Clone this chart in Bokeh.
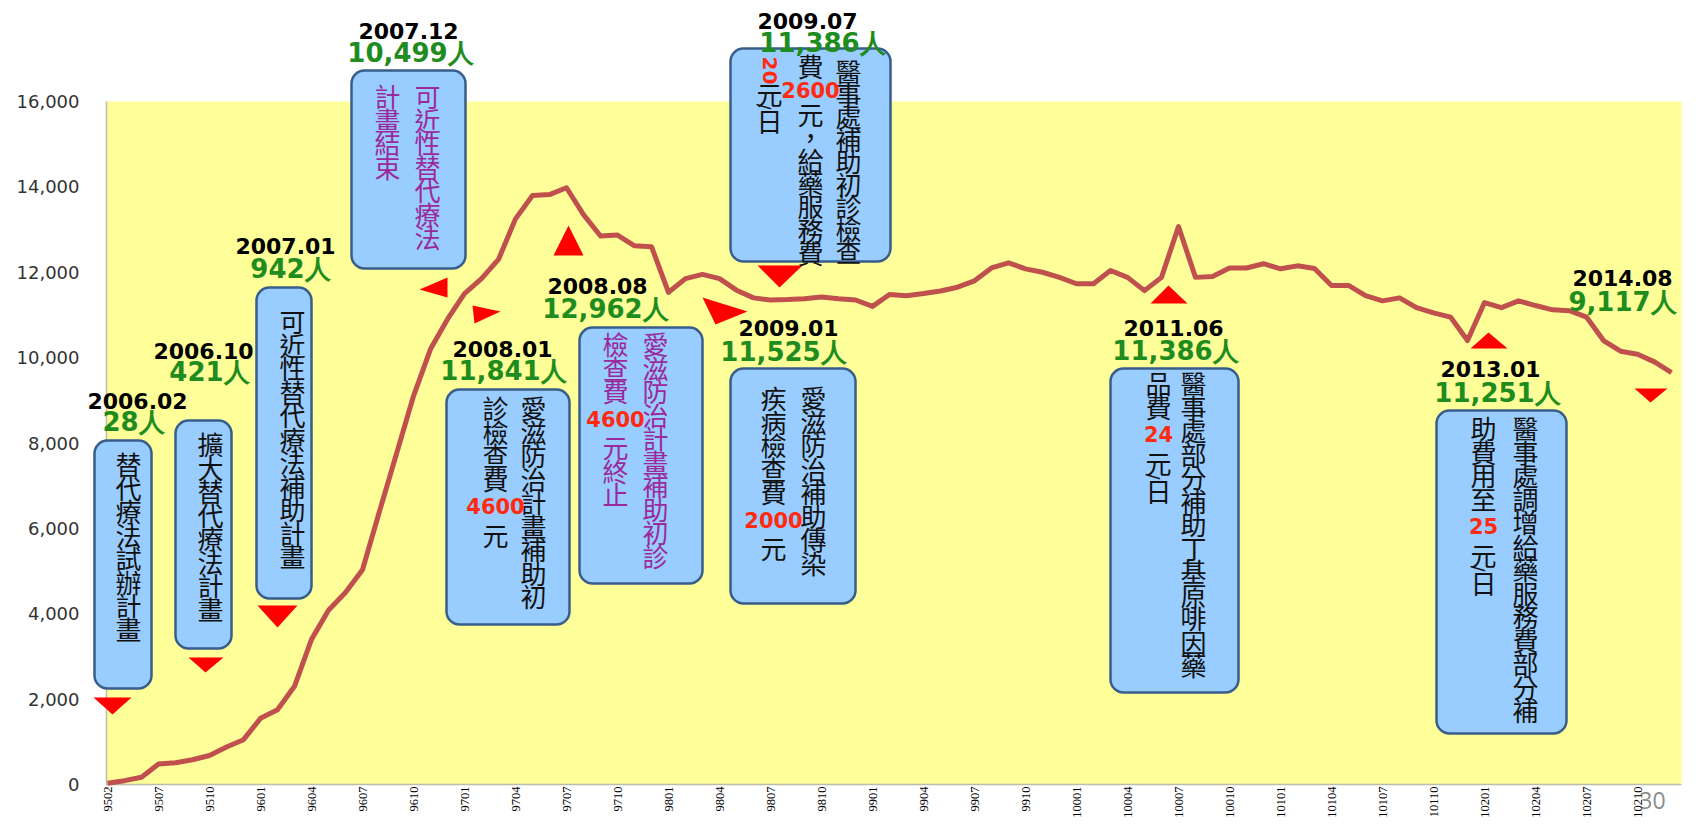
import math
from collections import defaultdict
from bokeh.plotting import figure
from bokeh.models import Range1d, FixedTicker, NumeralTickFormatter, ColumnDataSource
from bokeh.core.properties import value
from bokeh.embed import file_html
from bokeh.resources import INLINE

# ---------------- data ----------------
tick_labels = ["9502", "9507", "9510", "9601", "9604", "9607", "9610", "9701", "9704", "9707",
               "9710", "9801", "9804", "9807", "9810", "9901", "9904", "9907", "9910", "10001",
               "10004", "10007", "10010", "10101", "10104", "10107", "10110", "10201", "10204",
               "10207", "10210"]
patients = [28, 90, 170, 480, 510, 580, 680, 880, 1050, 1550,
            1750, 2300, 3400, 4080, 4500, 5030, 6400, 7750, 9100, 10200,
            10900, 11500, 11850, 12300, 13250, 13800, 13820, 13980, 13350, 12850,
            12870, 12620, 12600, 11530, 11850, 11950, 11850, 11580, 11400, 11350,
            11360, 11380, 11420, 11380, 11350, 11200, 11480, 11450, 11500, 11560,
            11650, 11800, 12100, 12220, 12080, 12000, 11880, 11730, 11730, 12040,
            11880, 11570, 11880, 13070, 11880, 11900, 12100, 12100, 12200, 12080,
            12150, 12090, 11690, 11690, 11450, 11330, 11400, 11170, 11050, 10950,
            10400, 11290, 11170, 11330, 11220, 11120, 11100, 10950, 10400, 10150,
            10080, 9900, 9650]
y_ticks = [0, 2000, 4000, 6000, 8000, 10000, 12000, 14000, 16000]
event_dates = ["2006.02", "2006.10", "2007.01", "2007.12", "2008.01", "2008.08",
               "2009.01", "2009.07", "2011.06", "2013.01", "2014.08"]
event_counts = ["28人", "421人", "942人", "10,499人", "11,841人", "12,962人",
                "11,525人", "11,386人", "11,386人", "11,251人", "9,117人"]

# ---------------- layout (reference pixel space; canvas px == picture px) ----------------
W, H = 1687, 818
X0_PX, DX_PX = 107.0, 17.0          # picture x of first month, px per month
Y0_PX = 784.0                      # picture y of value 0
PX_PER_UNIT = (784 - 101) / 16000.0


def Y(v):
    return 834 - v


p = figure(width=W, height=H,
           x_range=Range1d((0 - X0_PX) / DX_PX, (W - X0_PX) / DX_PX),
           y_range=Range1d((Y0_PX - H) / PX_PER_UNIT, Y0_PX / PX_PER_UNIT),
           output_backend="svg", toolbar_location=None, min_border=0)
p.extra_x_ranges = {"px": Range1d(0, W)}
p.extra_y_ranges = {"px": Range1d(834 - H, 834)}
p.xgrid.visible = False
p.ygrid.visible = False
p.outline_line_color = None
p.background_fill_color = "white"
p.border_fill_color = "white"

# axes (placed at fixed locations inside the frame)
p.yaxis.fixed_location = (85 - X0_PX) / DX_PX
p.yaxis.ticker = FixedTicker(ticks=y_ticks)
p.yaxis.formatter = NumeralTickFormatter(format="0,0")
p.yaxis.axis_line_color = None
p.yaxis.major_tick_line_color = None
p.yaxis.minor_tick_line_color = None
p.yaxis.major_tick_out = 0
p.yaxis.major_tick_in = 0
p.yaxis.major_label_standoff = 6
p.yaxis.major_label_text_font = "DejaVu Sans"
p.yaxis.major_label_text_font_size = "18px"
p.yaxis.major_label_text_color = "#333333"

p.xaxis.fixed_location = 0
p.xaxis.ticker = FixedTicker(ticks=[3 * k for k in range(len(tick_labels))])
p.xaxis.major_label_overrides = {3 * k: lab for k, lab in enumerate(tick_labels)}
p.xaxis.major_label_orientation = math.pi / 2
p.xaxis.axis_line_color = None
p.xaxis.major_tick_line_color = None
p.xaxis.minor_tick_line_color = None
p.xaxis.major_tick_out = 0
p.xaxis.major_tick_in = 0
p.xaxis.major_label_standoff = 2
p.xaxis.major_label_text_font = "Liberation Serif"
p.xaxis.major_label_text_font_size = "12.5px"
p.xaxis.major_label_text_color = "#000000"

# plot area background
p.quad(left=[106], right=[1681], top=[Y(101)], bottom=[Y(784)], x_range_name="px", y_range_name="px",
       fill_color="#FFFF99", line_color=None, level="underlay")
p.line(x=[106, 106, 1681], y=[Y(101), Y(784), Y(784)], x_range_name="px", y_range_name="px",
       line_color="#BDBDA8", line_width=1.5, level="underlay")

# data line
p.line(x=list(range(len(patients))), y=patients, line_color="#C0504D", line_width=5, line_join="round")

# rounded boxes
boxes = [(94, 151, 440, 688), (175, 231, 420, 648), (256, 311, 287, 598), (351, 465, 70, 268),
         (446, 569, 389, 624), (579, 702, 327, 583), (730, 855, 368, 603), (730, 890, 48, 261),
         (1110, 1238, 368, 692), (1436, 1566, 410, 733)]
p.quad(left=[b[0] for b in boxes], right=[b[1] for b in boxes], top=[Y(b[2]) for b in boxes],
       bottom=[Y(b[3]) for b in boxes], border_radius=13, x_range_name="px", y_range_name="px",
       fill_color="#99CCFF", line_color="#385D8A", line_width=2.5)

# triangles
tris = [[(93, 697), (131, 697), (112, 714)],
        [(188, 657), (223, 657), (205, 672)],
        [(257, 605), (297, 605), (277, 627)],
        [(447, 277), (447, 297), (419, 289)],
        [(472, 305), (474, 323), (500, 311)],
        [(553, 255), (583, 255), (568, 225)],
        [(702, 297), (715, 324), (747, 311)],
        [(757, 265), (802, 265), (779, 287)],
        [(1150, 303), (1187, 303), (1168, 285)],
        [(1470, 348), (1507, 348), (1488, 332)],
        [(1634, 388), (1667, 388), (1650, 402)]]
p.patches(xs=[[v[0] for v in t] for t in tris], ys=[[Y(v[1]) for v in t] for t in tris],
          x_range_name="px", y_range_name="px", fill_color="#FF0000", line_color=None)

# ---------------- texts ----------------
CJK = "Noto Sans CJK TC"
NUMF = "DejaVu Sans"
BLACK, PURPLE, RED, GREEN = "#111111", "#9A2A9C", "#FF2A10", "#1E8C1E"
groups = defaultdict(lambda: {"x": [], "y": [], "text": []})


def put(x, y, s, font, size, color, bold=False, angle=0.0):
    g = groups[(font, size, color, bold, angle)]
    g["x"].append(x)
    g["y"].append(Y(y))
    g["text"].append(s)


def column(x, y0, tokens, color, step=23.5, numgap=28.0):
    y = y0
    prev = None
    for tok in tokens:
        if prev is not None:
            if tok[0] in "#^" or prev[0] in "#^":
                y += numgap
            elif tok[0] == "/":
                y += step + 5
            else:
                y += step
        if tok[0] == "#":
            put(x, y, tok[1:], NUMF, 21, RED, True)
        elif tok[0] == "^":
            put(x, y, tok[1:], NUMF, 20, RED, True, -math.pi / 2)
        elif tok[0] == "/":
            put(x - 6, y - 14, "/", NUMF, 17, color, False, -math.pi / 2)
            put(x, y, tok[1:], CJK, 26, color)
        else:
            put(x, y, tok, CJK, 26, color)
        prev = tok


column(128, 463, list("替代療法試辦計畫"), BLACK)
column(210, 443, list("擴大替代療法計畫"), BLACK)
column(292, 320, list("可近性替代療法補助計畫"), BLACK)
column(427, 95, list("可近性替代療法"), PURPLE)
column(387, 95, list("計畫結束"), PURPLE)
column(533, 407, list("愛滋防治計畫補助初"), BLACK)
column(495, 407, list("診檢查費") + ["#4600", "元"], BLACK)
column(655, 343, list("愛滋防治計畫補助初診"), PURPLE)
column(615, 343, list("檢查費") + ["#4600"] + list("元終止"), PURPLE)
column(813, 397, list("愛滋防治補助傳染"), BLACK)
column(773, 397, list("疾病檢查費") + ["#2000", "元"], BLACK)
column(848, 70, list("醫事處補助初診檢查"), BLACK, step=22.5)
column(810, 65, ["費", "#2600", "元", "，"] + list("給藥服務費"), BLACK, step=23.1, numgap=24)
column(769, 70, ["^20", "元", "/日"], BLACK, step=22, numgap=23)
column(1193, 382, list("醫事處部分補助丁基原啡因藥"), BLACK)
column(1158, 382, list("品費") + ["#24", "元", "/日"], BLACK)
column(1525, 427, list("醫事處調增給藥服務費部分補"), BLACK)
column(1483, 427, list("助費用至") + ["#25", "元", "/日"], BLACK)

label_pos = [((137, 400), (133, 421)), ((203, 350), (209, 371)), ((285, 245), (290, 268)),
             ((408, 30), (410, 52)), ((502, 348), (503, 370)), ((597, 285), (605, 308)),
             ((788, 327), (783, 351)), ((807, 20), (822, 42)), ((1173, 327), (1175, 350)),
             ((1490, 368), (1497, 392)), ((1622, 277), (1622, 301))]
for d, c, (pd, pc) in zip(event_dates, event_counts, label_pos):
    put(pd[0], pd[1], d, NUMF, 22, "#000000", True)
    put(pc[0], pc[1], c, NUMF, 26, GREEN, True)

# slide page number
put(1652, 800, "30", "Open Sans", 23, "#8C8C8C")

for (font, size, color, bold, angle), g in groups.items():
    p.text(x="x", y="y", text="text", source=ColumnDataSource(dict(g)),
           x_range_name="px", y_range_name="px",
           text_font=value(font), text_font_size=f"{size}px", text_color=color,
           text_font_style="bold" if bold else "normal", angle=angle,
           text_align="center", text_baseline="middle")

open("out.html", "w").write(file_html(p, INLINE))
